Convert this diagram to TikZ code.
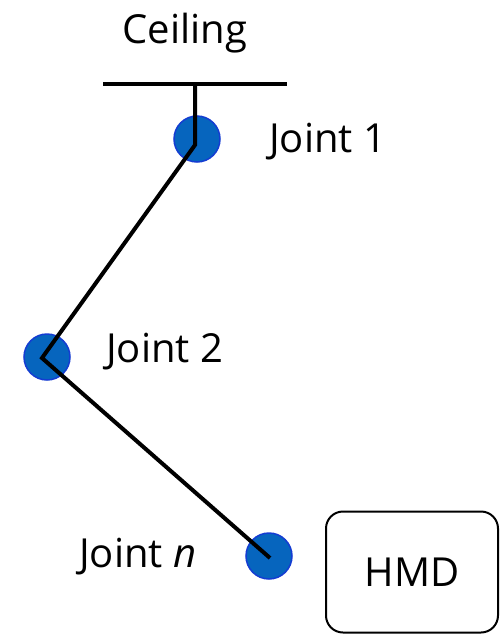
\documentclass[tikz,border=0pt]{standalone}
\usepackage{fontspec}
\setmainfont{Open Sans}
\definecolor{jointfill}{RGB}{6,101,190}
\definecolor{jointdraw}{RGB}{20,60,210}
\begin{document}
\begin{tikzpicture}[x=1pt,y=-1pt,
  joint/.style={circle,fill=jointfill,draw=jointdraw,line width=1.5pt,minimum size=46pt,inner sep=0pt},
  link/.style={line width=4pt,black},
  bigtext/.style={font=\fontsize{40}{48}\selectfont},
  lbl/.style={bigtext,inner sep=0pt,anchor=base west}]
\useasboundingbox (0,0) rectangle (502,635);
\node[joint] (j1) at (197,139) {};
\node[joint] (j2) at (47,357) {};
\node[joint] (jn) at (269,556) {};
\coordinate (c1) at (103,84);
\coordinate (c2) at (287,84);
\coordinate (top) at (195,84);
\coordinate (p1) at (195,145);
\coordinate (p2) at (42,358);
\coordinate (pn) at (270,558);
\draw[link] (c1) -- (c2);
\draw[link,line join=miter] (top) -- (p1) -- (p2) -- (pn);
\node[lbl,anchor=base] (ceil) at (185,43) {Ceiling};
\node[lbl] (l1) at (269,152) {Joint 1};
\node[lbl] (l2) at (106,362) {Joint 2};
\node[lbl] (ln) at (79,567) {Joint \textit{n}};
\node[draw,line width=2pt,rounded corners=17pt,minimum width=172pt,minimum height=121pt,bigtext] (hmd) at (412,572) {HMD};
\end{tikzpicture}
\end{document}
